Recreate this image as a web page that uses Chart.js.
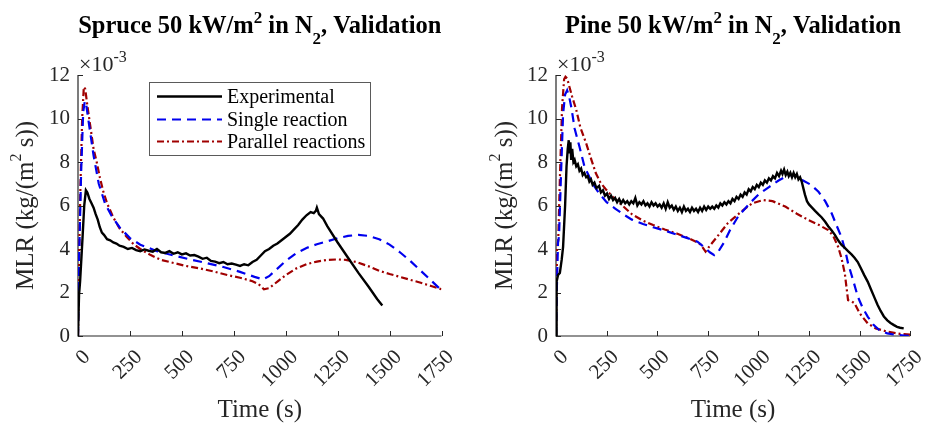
<!DOCTYPE html>
<html><head><meta charset="utf-8">
<script src="https://cdn.jsdelivr.net/npm/chart.js@4.4.0/dist/chart.umd.min.js"></script>
<style>
html,body{margin:0;padding:0;background:#fff;}
#wrap{position:relative;width:937px;height:427px;overflow:hidden;}
canvas{position:absolute;top:0;}
</style></head><body>
<div id="wrap">
<canvas id="c1" width="470" height="427" style="left:0"></canvas>
<canvas id="c2" width="467" height="427" style="left:470px"></canvas>
</div>
<script>
// ---------------- DATA (values in units of 1e-3 kg/(m^2 s)) ----------------
const xTicks = [0, 250, 500, 750, 1000, 1250, 1500, 1750];
const yTicks = [0, 2, 4, 6, 8, 10, 12];
const seriesNames = ['Experimental', 'Single reaction', 'Parallel reactions'];

// Spruce
const spruceExpT = [0,5,10,20,30,38,45,55,65,75,85,95,105,115,125,140,155,170,185,200,220,240,260,280,300,320,340,360,380,400,420,440,460,480,500,520,540,560,580,600,620,640,660,680,700,720,740,760,780,800,820,840,860,880,900,920,940,960,980,1000,1020,1040,1060,1080,1100,1120,1135,1145,1150,1160,1180,1200,1250,1300,1350,1400,1440,1465];
const spruceExpV = [0,1.9,2.5,4.2,6.0,6.7,6.6,6.3,6.1,5.9,5.6,5.35,5.0,4.75,4.65,4.45,4.4,4.3,4.25,4.15,4.1,4.0,4.05,3.95,3.9,3.98,3.92,3.88,4.0,3.85,3.82,3.9,3.78,3.85,3.75,3.8,3.7,3.72,3.65,3.55,3.6,3.45,3.42,3.35,3.4,3.3,3.33,3.28,3.22,3.3,3.25,3.4,3.5,3.7,3.9,4.0,4.15,4.25,4.4,4.55,4.7,4.9,5.1,5.35,5.55,5.7,5.65,5.75,5.9,5.6,5.4,5.05,4.3,3.6,2.9,2.25,1.7,1.4];
const spruceSingleT = [0,5,15,25,33,40,55,75,100,130,160,200,250,300,380,460,540,620,700,780,850,890,920,960,1000,1050,1100,1150,1200,1250,1300,1350,1400,1450,1500,1550,1600,1650,1700,1750];
const spruceSingleV = [0,3.5,7.5,10.3,10.8,10.6,9.6,8.3,7.0,6.1,5.55,5.0,4.5,4.2,3.9,3.7,3.52,3.35,3.17,2.95,2.72,2.6,2.75,3.1,3.45,3.8,4.05,4.22,4.35,4.5,4.6,4.65,4.6,4.45,4.2,3.85,3.45,3.0,2.55,2.1];
const spruceParT = [0,5,12,20,28,35,45,60,75,90,105,120,140,170,200,235,270,300,350,400,450,520,590,660,720,780,840,870,895,920,960,1000,1050,1100,1150,1200,1250,1290,1340,1400,1450,1500,1550,1600,1650,1700,1750];
const spruceParV = [0,3.5,7,10,11.45,11.35,10.6,9.6,8.6,8.0,7.3,6.7,6.1,5.45,4.95,4.55,4.2,4.0,3.72,3.5,3.38,3.22,3.1,2.95,2.8,2.68,2.52,2.38,2.15,2.2,2.5,2.8,3.1,3.3,3.42,3.5,3.52,3.5,3.4,3.2,3.0,2.85,2.72,2.58,2.45,2.3,2.15];

// Pine
const pineExpT = [0,3,10,19,28,35,45,52,58,63,67,71,75,80,86,92,100,108,116,124,132,140,149,157,165,173,181,190,200,213,222,232,242,252,262,272,282,292,302,312,322,332,342,352,362,372,382,392,402,412,422,432,442,452,462,472,482,492,502,512,522,532,542,552,562,572,582,592,602,612,622,632,642,652,662,672,682,692,702,712,722,732,742,752,762,772,782,792,802,812,822,832,842,852,862,872,882,892,902,912,922,932,942,952,962,972,982,992,1002,1012,1022,1032,1042,1052,1062,1072,1082,1092,1102,1112,1119,1127,1135,1143,1150,1158,1166,1174,1182,1190,1198,1206,1214,1222,1230,1240,1250,1265,1280,1296,1313,1330,1345,1362,1378,1394,1410,1427,1443,1460,1475,1491,1507,1523,1540,1556,1572,1588,1604,1620,1637,1653,1670,1685,1700,1718];
const pineExpV = [0,2.5,2.8,2.9,3.5,4.1,6.0,7.8,8.6,9.0,8.4,8.9,8.1,8.6,8.0,8.1,7.8,7.9,7.6,7.7,7.4,7.5,7.3,7.35,7.1,7.2,6.95,7.05,6.8,6.9,6.6,6.7,6.45,6.55,6.3,6.45,6.25,6.35,6.15,6.3,6.1,6.25,6.1,6.2,6.05,6.2,6.1,6.35,6.0,6.15,6.05,6.2,6.0,6.1,5.95,6.15,6.0,6.1,5.95,6.05,5.9,6.1,5.85,6.15,5.9,6.0,5.8,5.95,5.75,5.9,5.7,5.95,5.75,5.85,5.7,5.9,5.75,5.85,5.7,5.9,5.75,5.95,5.8,5.95,5.85,5.95,5.85,6.0,5.9,6.1,6.0,6.15,6.05,6.2,6.1,6.3,6.2,6.4,6.3,6.5,6.4,6.6,6.5,6.75,6.65,6.85,6.75,6.95,6.85,7.05,6.95,7.15,7.05,7.25,7.15,7.35,7.25,7.5,7.35,7.6,7.45,7.65,7.4,7.55,7.35,7.5,7.3,7.5,7.3,7.45,7.2,7.3,7.1,6.8,6.5,6.2,6.05,5.9,5.75,5.6,5.45,5.25,5.05,4.85,4.65,4.4,4.2,4.05,3.9,3.75,3.6,3.4,3.1,2.8,2.5,2.15,1.8,1.45,1.15,0.9,0.72,0.6,0.5,0.42,0.38,0.35];
const pineSingleT = [0,5,10,15,25,35,45,55,65,76,92,116,141,181,213,250,294,340,375,430,480,537,600,650,699,730,760,782,800,830,860,900,957,1000,1054,1100,1151,1190,1216,1260,1297,1330,1362,1390,1410,1430,1443,1470,1491,1515,1540,1570,1600,1637,1680,1720,1750];
const pineSingleV = [0,2.5,4.3,4.6,7.5,10.2,11.1,11.3,11.0,10.5,9.54,8.7,7.78,7.0,6.56,6.15,5.85,5.55,5.35,5.15,5.0,4.85,4.65,4.5,4.34,4.1,3.85,3.72,3.85,4.3,4.87,5.5,6.1,6.5,6.86,7.15,7.4,7.38,7.17,6.95,6.63,6.2,5.64,5.0,4.56,3.9,3.34,2.5,1.81,1.3,0.89,0.5,0.25,0.12,0.05,0.02,0.0];
const pineParT = [0,5,11,20,30,40,47,55,65,80,100,120,149,175,197,220,246,280,310,375,430,480,537,600,666,700,715,739,760,796,850,925,970,1022,1070,1135,1190,1248,1300,1345,1370,1394,1410,1427,1443,1460,1475,1500,1540,1580,1637,1700,1750];
const pineParV = [0,4.0,4.4,7.5,10.5,11.8,11.92,11.85,11.5,11.0,10.4,9.6,8.86,8.1,7.48,7.05,6.75,6.4,6.15,5.6,5.3,5.1,4.9,4.7,4.45,4.3,4.2,3.88,4.15,4.56,5.2,5.79,6.1,6.25,6.2,5.94,5.62,5.33,5.1,4.87,4.6,4.1,3.6,2.88,1.65,1.6,1.5,1.05,0.58,0.35,0.2,0.1,0.06];

// ---------------- STYLE ----------------
const SERIF = "'Liberation Serif','Times New Roman',serif";
const AXIS_COLOR = '#262626';
const COLORS = ['#000000', '#0000ee', '#a00000'];
const DASHES = [[], [9, 6], [7, 3, 2, 3]];
const WIDTHS = [2.4, 2.2, 2.2];

function pts(T, V) { return T.map((t, i) => ({x: t, y: V[i]})); }

function setFont(ctx, p) { ctx.font = (p.b ? 'bold ' : '') + p.s + 'px ' + SERIF; }
function richWidth(ctx, parts) {
  let w = 0;
  for (const p of parts) { setFont(ctx, p); w += ctx.measureText(p.t).width; }
  return w;
}
function drawRich(ctx, parts, x, y) {
  ctx.textAlign = 'left';
  ctx.textBaseline = 'alphabetic';
  for (const p of parts) {
    setFont(ctx, p);
    ctx.fillText(p.t, x, y + (p.dy || 0));
    x += ctx.measureText(p.t).width;
  }
}

function makeChart(id, cfg) {
  const canvas = document.getElementById(id);
  const W = canvas.width;
  const deco = {
    id: 'deco' + id,
    beforeDatasetsDraw(chart) {
      const ctx = chart.ctx, ca = chart.chartArea;
      const xs = chart.scales.x, ys = chart.scales.y;
      ctx.save();
      ctx.strokeStyle = AXIS_COLOR;
      ctx.lineWidth = 1.2;
      ctx.beginPath();
      ctx.moveTo(ca.left, ca.top); ctx.lineTo(ca.left, ca.bottom); ctx.lineTo(ca.right, ca.bottom);
      ctx.stroke();
      ctx.lineWidth = 1;
      ctx.beginPath();
      for (const t of xTicks) {
        const px = Math.round(xs.getPixelForValue(t)) + 0.5;
        ctx.moveTo(px, ca.bottom); ctx.lineTo(px, ca.bottom - 5);
      }
      for (const t of yTicks) {
        const py = Math.round(ys.getPixelForValue(t)) + 0.5;
        ctx.moveTo(ca.left, py); ctx.lineTo(ca.left + 5, py);
      }
      ctx.stroke();
      ctx.restore();
    },
    afterDraw(chart) {
      const ctx = chart.ctx, ca = chart.chartArea;
      ctx.save();
      ctx.fillStyle = '#000';
      // title
      const tw = richWidth(ctx, cfg.title);
      drawRich(ctx, cfg.title, (ca.left + ca.right) / 2 - tw / 2, 33);
      // exponent label
      ctx.fillStyle = AXIS_COLOR;
      drawRich(ctx, [{t: '\u00d710', s: 22}, {t: '-3', s: 16, dy: -9}], ca.left + 1, 71);
      // y title
      const yParts = [{t: 'MLR (kg/(m', s: 25}, {t: '2', s: 16, dy: -12}, {t: ' s))', s: 25}];
      const yw = richWidth(ctx, yParts);
      ctx.save();
      ctx.translate(cfg.yTitleX, (ca.top + ca.bottom) / 2);
      ctx.rotate(-Math.PI / 2);
      drawRich(ctx, yParts, -yw / 2, 0);
      ctx.restore();
      // x title
      const xParts = [{t: 'Time (s)', s: 25}];
      const xw = richWidth(ctx, xParts);
      drawRich(ctx, xParts, (ca.left + ca.right) / 2 - xw / 2, 417);
      // legend
      if (cfg.legend) {
        ctx.fillStyle = '#fff';
        ctx.fillRect(149.5, 82.5, 221, 73);
        ctx.strokeStyle = '#5a5a5a';
        ctx.lineWidth = 1;
        ctx.strokeRect(149.5, 82.5, 221, 73);
        const rows = [96.5, 119.5, 141.5];
        for (let i = 0; i < 3; i++) {
          ctx.beginPath();
          ctx.strokeStyle = COLORS[i];
          ctx.lineWidth = WIDTHS[i];
          ctx.setLineDash(DASHES[i]);
          ctx.moveTo(157, rows[i]); ctx.lineTo(222, rows[i]);
          ctx.stroke();
          ctx.setLineDash([]);
          ctx.fillStyle = '#000';
          ctx.font = '20px ' + SERIF;
          ctx.textAlign = 'left';
          ctx.textBaseline = 'middle';
          ctx.fillText(seriesNames[i], 227, rows[i] + 1);
        }
      }
      ctx.restore();
    }
  };

  const ds = cfg.series.map((s, i) => ({
    label: seriesNames[i],
    data: pts(s[0], s[1]),
    borderColor: COLORS[i],
    borderWidth: WIDTHS[i],
    borderDash: DASHES[i],
    pointRadius: 0,
    tension: 0,
    fill: false
  }));

  return new Chart(canvas, {
    type: 'line',
    data: {datasets: ds},
    options: {
      responsive: false,
      animation: false,
      layout: {padding: {left: 0, top: 75, right: W - cfg.x1, bottom: 0}},
      plugins: {legend: {display: false}, tooltip: {enabled: false}, title: {display: false}},
      scales: {
        x: {
          type: 'linear', min: 0, max: 1750,
          afterBuildTicks: (sc) => { sc.ticks = xTicks.map(v => ({value: v})); },
          afterFit: (sc) => { sc.height = 91; },
          grid: {display: false, drawTicks: false},
          border: {display: false},
          ticks: {
            minRotation: 45, maxRotation: 45, autoSkip: false,
            padding: 9, labelOffset: 9,
            color: AXIS_COLOR,
            font: {family: SERIF, size: 21},
            callback: (v) => String(v)
          }
        },
        y: {
          type: 'linear', min: 0, max: 12,
          afterBuildTicks: (sc) => { sc.ticks = yTicks.map(v => ({value: v})); },
          afterFit: (sc) => { sc.width = cfg.x0; },
          grid: {display: false, drawTicks: false},
          border: {display: false},
          ticks: {
            padding: 8,
            color: AXIS_COLOR,
            font: {family: SERIF, size: 21},
            callback: (v) => String(v)
          }
        }
      }
    },
    plugins: [deco]
  });
}

makeChart('c1', {
  x0: 78, x1: 441.5, yTitleX: 33, legend: true,
  title: [{t: 'Spruce 50 kW/m', s: 24.5, b: 1}, {t: '2', s: 17, b: 1, dy: -10}, {t: ' in N', s: 24.5, b: 1}, {t: '2', s: 17, b: 1, dy: 11}, {t: ', Validation', s: 24.5, b: 1}],
  series: [[spruceExpT, spruceExpV], [spruceSingleT, spruceSingleV], [spruceParT, spruceParV]]
});
makeChart('c2', {
  x0: 86, x1: 446.5, yTitleX: 42, legend: false,
  title: [{t: 'Pine 50 kW/m', s: 24.5, b: 1}, {t: '2', s: 17, b: 1, dy: -10}, {t: ' in N', s: 24.5, b: 1}, {t: '2', s: 17, b: 1, dy: 11}, {t: ', Validation', s: 24.5, b: 1}],
  series: [[pineExpT, pineExpV], [pineSingleT, pineSingleV], [pineParT, pineParV]]
});
</script>
</body></html>
